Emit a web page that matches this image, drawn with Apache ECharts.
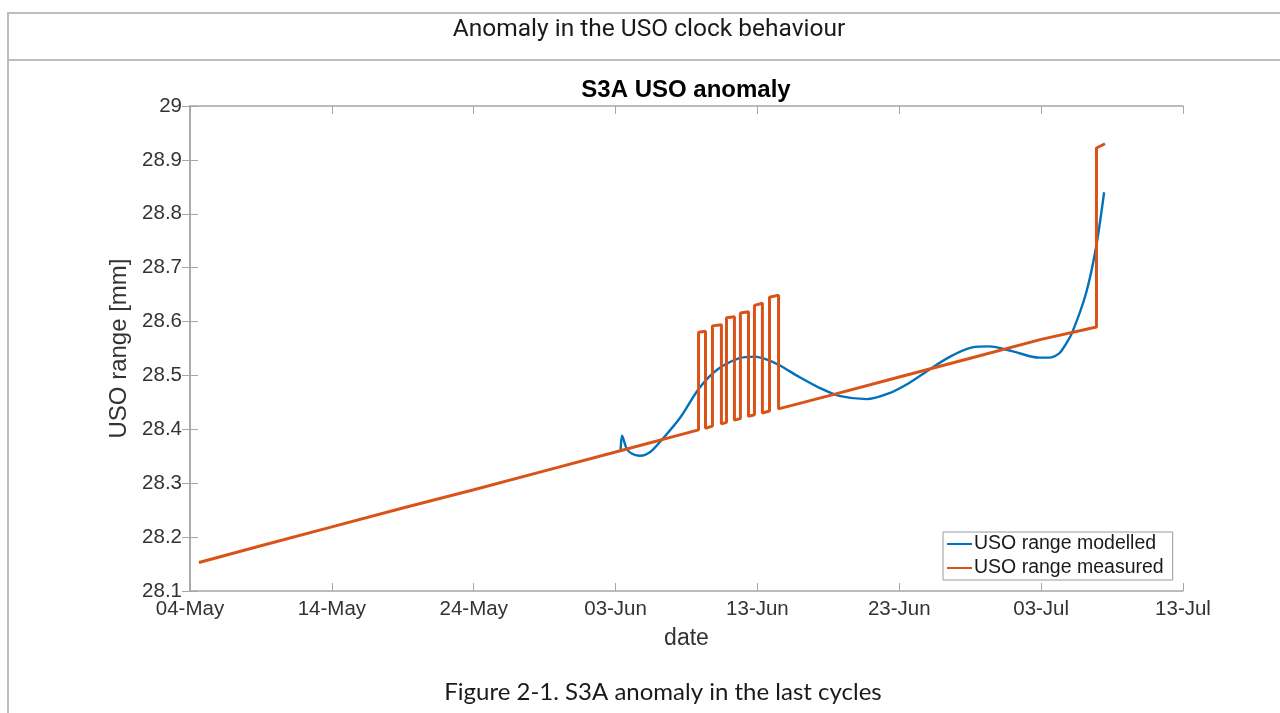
<!DOCTYPE html>
<html>
<head>
<meta charset="utf-8">
<title>S3A USO anomaly</title>
<script src="https://cdn.jsdelivr.net/npm/echarts@6/dist/echarts.min.js"></script>
<style>
	html, body { margin: 0; padding: 0; background: #fff; }
	#frame { position: absolute; left: 7px; top: 12px; width: 1273px; height: 701px; border-top: 2px solid #bdbdbd; border-left: 2px solid #bdbdbd; }
	#divider { position: absolute; left: 7px; top: 59px; width: 1273px; border-top: 2px solid #bdbdbd; }
	#main { position: absolute; left: 0; top: 0; width: 1280px; height: 713px; }
</style>
</head>
<body>
<div id="frame"></div>
<div id="divider"></div>
<div id="main"></div>
<script type="text/javascript">
	// x values are days counted from 04-May
	var xTickLabels = ['04-May', '14-May', '24-May', '03-Jun', '13-Jun', '23-Jun', '03-Jul', '13-Jul'];

	var modelledDays = [30.35, 30.46, 30.77, 31.13, 31.69, 32.04, 32.54, 33.24, 34.51, 35.92, 37.18, 38.73,
		39.79, 40.63, 41.55, 42.96, 44.37, 45.77, 47.68, 49.30, 50.70, 51.90, 53.52, 55.14, 56.34, 57.96,
		59.86, 60.56, 61.27, 61.69, 62.18, 63.17, 63.87, 64.44];
	var modelledValues = [28.358, 28.388, 28.365, 28.355, 28.351, 28.352, 28.360, 28.380, 28.420, 28.477, 28.511, 28.532,
		28.535, 28.530, 28.519, 28.497, 28.477, 28.462, 28.456, 28.467, 28.486, 28.507, 28.534, 28.552, 28.554, 28.545,
		28.533, 28.533, 28.541, 28.556, 28.579, 28.653, 28.738, 28.840];

	var measuredDays = [0.63, 5, 10, 15, 20, 25, 30,
		35.85, 35.85, 36.34, 36.34,
		36.83, 36.83, 37.46, 37.46,
		37.82, 37.82, 38.38, 38.38,
		38.80, 38.80, 39.37, 39.37,
		39.79, 39.79, 40.35, 40.35,
		40.85, 40.85, 41.49, 41.49,
		45, 50, 55, 60, 63.9, 63.9, 64.5];
	var measuredValues = [28.153, 28.184, 28.219, 28.254, 28.288, 28.323, 28.358,
		28.399, 28.580, 28.582, 28.402,
		28.406, 28.592, 28.594, 28.410,
		28.413, 28.607, 28.609, 28.417,
		28.420, 28.616, 28.618, 28.424,
		28.427, 28.630, 28.634, 28.430,
		28.434, 28.645, 28.649, 28.438,
		28.462, 28.497, 28.532, 28.567, 28.590, 28.922, 28.930];

	function pairs(xs, ys) {
		return xs.map(function (x, i) { return [x, ys[i]]; });
	}

	var axisGray = '#a6a6a6';
	var labelColor = '#333';
	var chartFont = 'Liberation Sans, Arial, sans-serif';

	var myChart = echarts.init(document.getElementById('main'));
	var option = {
		animation: false,
		textStyle: { fontFamily: chartFont },
		graphic: [
			{ type: 'text', x: 649, y: 30, style: { text: 'Anomaly in the USO clock behaviour', fill: '#1a1a1a',
				font: '24.5px Roboto, "Liberation Sans", sans-serif', align: 'center', verticalAlign: 'middle' } },
			{ type: 'text', x: 686, y: 90, style: { text: 'S3A USO anomaly', fill: '#000',
				font: 'bold 24px Liberation Sans, Arial, sans-serif', align: 'center', verticalAlign: 'middle' } },
			{ type: 'text', x: 663, y: 692, style: { text: 'Figure 2-1. S3A anomaly in the last cycles', fill: '#1a1a1a',
				font: '24px Lato, "Open Sans", sans-serif', align: 'center', verticalAlign: 'middle' } }
		],
		grid: { left: 190, top: 106, right: 97, bottom: 122, containLabel: false },
		legend: {
			orient: 'vertical',
			left: 943,
			top: 532,
			backgroundColor: '#fff',
			borderColor: '#999',
			borderWidth: 1,
			borderRadius: 0,
			padding: [2, 9, 2, 4],
			itemGap: 4,
			itemWidth: 25,
			itemHeight: 2,
			icon: 'rect',
			textStyle: { fontSize: 19.5, color: '#1a1a1a', padding: [0, 0, 0, -3] },
			data: ['USO range modelled', 'USO range measured']
		},
		xAxis: [{
			type: 'value',
			min: 0,
			max: 70,
			interval: 10,
			name: 'date',
			nameLocation: 'middle',
			nameGap: 36,
			nameTextStyle: { fontSize: 23, color: labelColor },
			axisLine: { lineStyle: { color: axisGray, width: 1.5 } },
			axisTick: { inside: true, length: 8, lineStyle: { color: axisGray } },
			axisLabel: { fontSize: 20.5, color: labelColor, margin: 8,
				formatter: function (v) { return xTickLabels[Math.round(v / 10)]; } },
			splitLine: { show: false }
		}, {
			type: 'value',
			position: 'top',
			min: 0,
			max: 70,
			interval: 10,
			axisLine: { show: true, lineStyle: { color: axisGray, width: 1.5 } },
			axisTick: { inside: true, length: 8, lineStyle: { color: axisGray } },
			axisLabel: { show: false },
			splitLine: { show: false }
		}],
		yAxis: [{
			type: 'value',
			min: 28.1,
			max: 29,
			interval: 0.1,
			name: 'USO range [mm]',
			nameLocation: 'middle',
			nameGap: 53,
			nameTextStyle: { fontSize: 24, color: labelColor },
			axisLine: { show: true, lineStyle: { color: axisGray, width: 1.5 } },
			axisTick: { show: true, inside: true, length: 8, lineStyle: { color: axisGray } },
			axisLabel: { fontSize: 20.5, color: labelColor, margin: 8 },
			splitLine: { show: false }
		}, {
			type: 'value',
			position: 'right',
			min: 28.1,
			max: 29,
			interval: 0.1,
			axisLine: { show: true, lineStyle: { color: axisGray, width: 1.5 } },
			axisTick: { show: true, inside: true, length: 8, lineStyle: { color: axisGray } },
			axisLabel: { show: false },
			splitLine: { show: false }
		}],
		series: [{
			name: 'USO range modelled',
			type: 'line',
			data: pairs(modelledDays, modelledValues),
			showSymbol: false,
			smooth: 0.3,
			lineStyle: { color: '#0072BD', width: 2.4 },
			itemStyle: { color: '#0072BD' }
		}, {
			name: 'USO range measured',
			type: 'line',
			data: pairs(measuredDays, measuredValues),
			showSymbol: false,
			lineStyle: { color: '#D95319', width: 3 },
			itemStyle: { color: '#D95319' }
		}]
	};
	myChart.setOption(option);
</script>
</body>
</html>
